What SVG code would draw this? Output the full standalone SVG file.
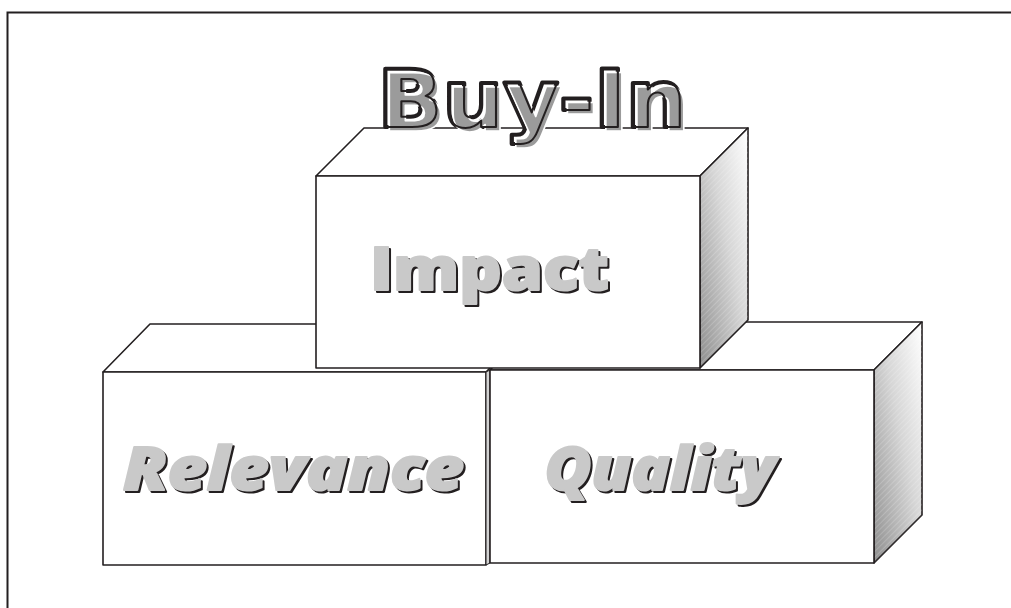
<svg xmlns="http://www.w3.org/2000/svg" width="1011" height="608" viewBox="0 0 1011 608">
<defs>
<linearGradient id="sideGrad" x1="1" y1="0" x2="0" y2="1">
<stop offset="0" stop-color="#ffffff"/>
<stop offset="0.45" stop-color="#d6d6d6"/>
<stop offset="1" stop-color="#8e8e8e"/>
</linearGradient>
<pattern id="hatch" width="4" height="4" patternUnits="userSpaceOnUse" patternTransform="rotate(45)">
<line x1="0" y1="0" x2="0" y2="4" stroke="#ffffff" stroke-width="1" stroke-opacity="0.35"/>
</pattern>
<style>
.edge{stroke:#231f20;stroke-width:1.6;stroke-linejoin:round;fill:#ffffff}
.side{stroke:#231f20;stroke-width:1.6;stroke-linejoin:round;fill:url(#sideGrad)}
.hatch{fill:url(#hatch);stroke:none}
.lbl{font-family:"Open Sans","Liberation Sans",sans-serif;font-weight:800;font-size:60px;stroke-width:2;stroke-linejoin:round}
.lblShadow{fill:#231f20;stroke:#231f20}
.lblFill{fill:#c9c9c9;stroke:#c9c9c9}
.title{font-family:"DejaVu Sans","Liberation Sans",sans-serif;font-weight:bold;font-size:80px;stroke-linejoin:round}
</style>
</defs>
<rect x="0" y="0" width="1011" height="608" fill="#ffffff"/>
<path d="M7.5 608 V12.5 H1011" fill="none" stroke="#231f20" stroke-width="2"/>

<g id="connectors"></g>

<g id="relevance">
<polygon class="edge" points="103,372 150,324 534,324 486,372"/>
<rect class="edge" x="103" y="372" width="383" height="193"/>
<polygon points="486,372 490,370 490,563 486,565" fill="#d2d2d2" stroke="#231f20" stroke-width="1"/>
<text class="lbl lblShadow" x="295.5" y="492" text-anchor="middle" font-style="italic" textLength="341" lengthAdjust="spacingAndGlyphs">Relevance</text>
<text class="lbl lblFill" x="293.5" y="490" text-anchor="middle" font-style="italic" textLength="341" lengthAdjust="spacingAndGlyphs">Relevance</text>
</g>

<g id="quality">
<polygon class="edge" points="490,370 538,322 922,322 874,370"/>
<polygon class="side" points="874,370 922,322 922,515 874,563"/>
<polygon class="hatch" points="874,370 922,322 922,515 874,563"/>
<rect class="edge" x="490" y="370" width="384" height="193"/>
<text class="lbl lblShadow" x="662" y="492" text-anchor="middle" font-style="italic" textLength="231" lengthAdjust="spacingAndGlyphs">Quality</text>
<text class="lbl lblFill" x="660" y="490" text-anchor="middle" font-style="italic" textLength="231" lengthAdjust="spacingAndGlyphs">Quality</text>
</g>

<g id="impact">
<polygon class="edge" points="316,176 364,128 748,128 700,176"/>
<polygon class="side" points="700,176 748,128 748,320 700,368"/>
<polygon class="hatch" points="700,176 748,128 748,320 700,368"/>
<rect class="edge" x="316" y="176" width="384" height="192"/>
<text class="lbl lblShadow" x="491.5" y="292" text-anchor="middle" textLength="239" lengthAdjust="spacingAndGlyphs">Impact</text>
<text class="lbl lblFill" x="489.5" y="290" text-anchor="middle" textLength="239" lengthAdjust="spacingAndGlyphs">Impact</text>
</g>

<g id="title">
<text class="title" x="532" y="127" text-anchor="middle" textLength="309" lengthAdjust="spacingAndGlyphs" fill="#ffffff" stroke="#231f20" stroke-width="4">Buy-In</text>
<text class="title" x="536" y="131" text-anchor="middle" textLength="309" lengthAdjust="spacingAndGlyphs" fill="#9b9b9b" stroke="#ffffff" stroke-width="1.5">Buy-In</text>
<text class="title" x="532" y="127" text-anchor="middle" textLength="309" lengthAdjust="spacingAndGlyphs" fill="none" stroke="#231f20" stroke-width="2">Buy-In</text>
</g>
</svg>
